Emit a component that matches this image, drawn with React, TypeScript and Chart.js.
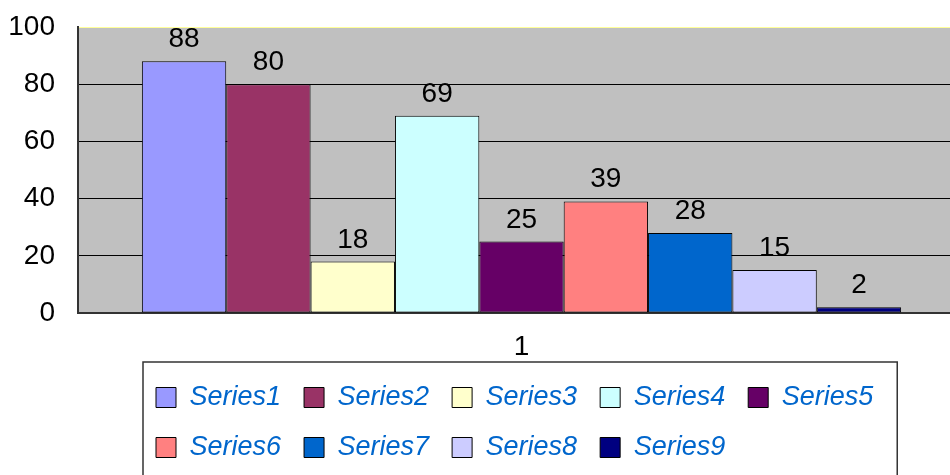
import React, { useEffect, useRef } from 'react';
import { Chart, registerables } from 'chart.js';

Chart.register(...registerables);

const categories = ['1'];
const seriesNames = ['Series1', 'Series2', 'Series3', 'Series4', 'Series5', 'Series6', 'Series7', 'Series8', 'Series9'];
const seriesValues = [88, 80, 18, 69, 25, 39, 28, 15, 2];
const seriesColors = ['#9999FF', '#993366', '#FFFFCC', '#CCFFFF', '#660066', '#FF8080', '#0066CC', '#CCCCFF', '#000080'];
const yMin = 0;
const yMax = 100;
const yStep = 20;

const FONT = "'Liberation Sans', Arial, sans-serif";

const plotBackground = {
  id: 'plotBackground',
  beforeDraw(chart: any) {
    const { ctx, chartArea } = chart;
    ctx.save();
    ctx.fillStyle = '#C0C0C0';
    ctx.fillRect(chartArea.left, chartArea.top, chartArea.right - chartArea.left, chartArea.bottom - chartArea.top);
    ctx.restore();
  },
};

const valueLabels = {
  id: 'valueLabels',
  afterDatasetsDraw(chart: any) {
    const { ctx } = chart;
    ctx.save();
    ctx.font = `28px ${FONT}`;
    ctx.fillStyle = '#000';
    ctx.textAlign = 'center';
    ctx.textBaseline = 'alphabetic';
    chart.data.datasets.forEach((ds: any, i: number) => {
      const meta = chart.getDatasetMeta(i);
      meta.data.forEach((bar: any, j: number) => {
        ctx.fillText(String(ds.data[j]), bar.x, bar.y - 14);
      });
    });
    ctx.restore();
  },
};

const legendFrame = {
  id: 'legendFrame',
  afterLayout(chart: any) {
    const lg = chart.legend;
    if (lg) {
      const w = lg.right - lg.left;
      lg.left = chart.chartArea.left + 55;
      lg.right = lg.left + w;
    }
  },
  afterDraw(chart: any) {
    const lg = chart.legend;
    if (!lg || !lg.legendHitBoxes || !lg.legendHitBoxes.length) return;
    const hb = lg.legendHitBoxes;
    const left = Math.min(...hb.map((h: any) => h.left)) - 13;
    const right = Math.max(...hb.map((h: any) => h.left + h.width)) + 24;
    const { ctx } = chart;
    ctx.save();
    ctx.strokeStyle = '#333';
    ctx.lineWidth = 1.5;
    ctx.strokeRect(left, lg.top + 1, right - left, 200);
    ctx.restore();
  },
};

export default function App() {
  const ref = useRef<HTMLCanvasElement | null>(null);

  useEffect(() => {
    if (!ref.current) return;
    const chart = new Chart(ref.current, {
      type: 'bar',
      data: {
        labels: categories,
        datasets: seriesNames.map((name, i) => ({
          label: name,
          data: [seriesValues[i]],
          backgroundColor: seriesColors[i],
          borderColor: '#000',
          borderWidth: 1,
          borderSkipped: false,
          barPercentage: 1,
          categoryPercentage: 0.856,
        })),
      },
      options: {
        responsive: false,
        animation: false,
        events: [],
        layout: { padding: { top: 27, right: 75, bottom: 4, left: 0 } },
        plugins: {
          tooltip: { enabled: false },
          title: { display: false },
          legend: {
            display: true,
            position: 'bottom',
            fullSize: false,
            align: 'start',
            labels: {
              boxWidth: 20,
              boxHeight: 20,
              padding: 23,
              color: '#0066CC',
              font: { family: FONT, size: 27, style: 'italic' },
            },
          },
        },
        scales: {
          x: {
            grid: { display: false, drawTicks: false },
            border: { display: true, color: '#333', width: 2 },
            ticks: { color: '#000', font: { family: FONT, size: 28 }, padding: 17 },
            afterFit: (s: any) => {
              s.height = 48;
              s.paddingLeft = 0;
              s.paddingRight = 0;
            },
          },
          y: {
            min: yMin,
            max: yMax,
            grid: {
              color: (c: any) => (c.tick && c.tick.value === yMax ? '#FFFF99' : '#000'),
              lineWidth: 1,
              drawTicks: false,
            },
            border: { display: true, color: '#333', width: 2 },
            ticks: { stepSize: yStep, color: '#000', font: { family: FONT, size: 28 }, padding: 23 },
            afterFit: (s: any) => {
              s.width = 78;
              s.paddingTop = 0;
              s.paddingBottom = 0;
            },
          },
        },
      },
      plugins: [plotBackground, valueLabels, legendFrame],
    } as any);
    return () => chart.destroy();
  }, []);

  return (
    <div style={{ position: 'fixed', left: 0, top: 0, width: 950, height: 475, overflow: 'hidden', background: '#fff' }}>
      <canvas ref={ref} width={1040} height={475} style={{ display: 'block' }} />
    </div>
  );
}
